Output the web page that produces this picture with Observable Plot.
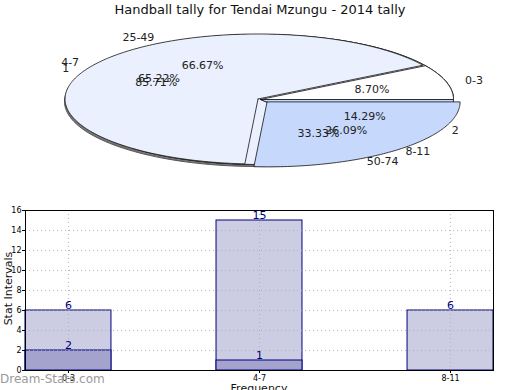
<!DOCTYPE html>
<html><head><meta charset="utf-8">
<script src="https://cdn.jsdelivr.net/npm/d3@7"></script>
<script src="https://cdn.jsdelivr.net/npm/@observablehq/plot@0.6"></script>
<style>
body{margin:0;background:#fff;font-family:"DejaVu Sans",sans-serif;}
#wrap{position:relative;width:520px;height:390px;overflow:hidden;background:#fff;}
#title{position:absolute;top:2px;left:0;width:520px;text-align:center;font-size:13px;color:#111;}
#pie{position:absolute;top:0;left:0;}
#bar{position:absolute;top:200px;left:0;}
#wm{position:absolute;left:0;top:372px;font-size:12px;color:#9a9a9a;}
#ylab{position:absolute;left:-37px;top:282px;width:90px;text-align:center;font-size:11px;color:#111;transform:rotate(-90deg);}
#xlab{position:absolute;left:209px;top:382px;width:100px;text-align:center;font-size:11px;color:#111;}
</style></head><body>
<div id="wrap"><div id="pie"></div><div id="bar"></div><div id="title">Handball tally for Tendai Mzungu - 2014 tally</div><div id="wm">Dream-Stats.com</div><div id="ylab">Stat Intervals</div><div id="xlab">Frequency</div></div>
<script>
// ---- data ----
const pieALabels = ["25-49", "50-74"];
const pieAValues = [2, 1];
const pieBLabels = ["0-3", "4-7", "8-11"];
const pieBValues = [2, 15, 6];
const pieCLabels = ["1", "2"];
const pieCValues = [6, 1];

const barCategories = ["0-3", "4-7", "8-11"];
const barTotals = [6, 15, 6];
const barSubset = [2, 1, null];
const yTicks = [0, 2, 4, 6, 8, 10, 12, 14, 16];

// ---- pie geometry (unit ellipse, angles ccw from 3 o'clock) ----
const PALE = "#eaf0fd", LIGHT = "#c6d8fc", WHITE = "#ffffff";
function buildPie(name, labels, values, colors, explode) {
  const total = d3.sum(values);
  let a0 = 0;
  return labels.map((label, i) => {
    const a1 = a0 + values[i] / total * 360;
    const mid = (a0 + a1) / 2 * Math.PI / 180;
    const e = explode[i];
    const ox = e * Math.cos(mid), oy = e * Math.sin(mid);
    const pts = [{x: ox, y: oy}];
    const n = Math.max(2, Math.ceil(a1 - a0));
    for (let k = 0; k <= n; k++) {
      const r = (a0 + (a1 - a0) * k / n) * Math.PI / 180;
      pts.push({x: ox + Math.cos(r), y: oy + Math.sin(r)});
    }
    pts.push({x: ox, y: oy});
    const s = {pie: name, label, pct: (values[i] / total * 100).toFixed(2) + "%", color: colors[i], pts,
      px: ox + 0.6 * Math.cos(mid), py: oy + 0.6 * Math.sin(mid),
      lx: 1.1 * Math.cos(mid), ly: 1.1 * Math.sin(mid)};
    a0 = a1;
    return s;
  });
}
const pieA = buildPie("A", pieALabels, pieAValues, [PALE, LIGHT], [0, 0]);
const pieC = buildPie("C", pieCLabels, pieCValues, [PALE, LIGHT], [0, 0]);
const pieB = buildPie("B", pieBLabels, pieBValues, [WHITE, PALE, LIGHT], [0, 0.015, 0.05]);
const allSlices = [...pieA, ...pieC, ...pieB];

const CX = 260, CY = 99, RX = 193, RY = 65, PW = 520, PH = 185;
const shadow = d3.range(0, 361, 2).map(a => ({x: Math.cos(a * Math.PI / 180) - 3 / RX, y: Math.sin(a * Math.PI / 180) - 2 / RY}));

const pieMarks = [
  Plot.line(shadow, {x: "x", y: "y", fill: "#777", stroke: "#555", strokeWidth: 1})
];
for (const s of allSlices) {
  pieMarks.push(Plot.line(s.pts, {x: "x", y: "y", fill: s.color, stroke: "#111", strokeWidth: 0.8, curve: "linear"}));
}
const textStyle = {fontSize: 11, fill: "#222", fontFamily: "DejaVu Sans"};
pieMarks.push(Plot.text(allSlices, {x: "px", y: "py", text: "pct", ...textStyle}));
pieMarks.push(Plot.text(allSlices.filter(s => s.lx < 0), {x: "lx", y: "ly", text: "label", textAnchor: "end", ...textStyle}));
pieMarks.push(Plot.text(allSlices.filter(s => s.lx >= 0), {x: "lx", y: "ly", text: "label", textAnchor: "start", ...textStyle}));

const piePlot = Plot.plot({
  width: PW, height: PH, margin: 0,
  x: {domain: [-CX / RX, (PW - CX) / RX], range: [0, PW], axis: null},
  y: {domain: [-(PH - CY) / RY, CY / RY], range: [PH, 0], axis: null},
  marks: pieMarks
});
document.getElementById("pie").appendChild(piePlot);

// ---- bar chart ----
const HALF = 0.225;
const totalRows = barCategories.map((c, i) => ({i, c, v: barTotals[i]}));
const subRows = barCategories.map((c, i) => ({i, c, v: barSubset[i]})).filter(d => d.v != null);
const navy = "#00007f";
const barPlot = Plot.plot({
  width: 520, height: 190, marginLeft: 25, marginRight: 27, marginTop: 10, marginBottom: 20,
  style: {fontFamily: "DejaVu Sans", background: "transparent"},
  x: {domain: [-HALF, 2 + HALF]},
  y: {domain: [0, 16]},
  marks: [
    Plot.rect(totalRows, {x1: d => d.i - HALF, x2: d => d.i + HALF, y1: 0, y2: "v", fill: "#cccce3", stroke: navy, strokeWidth: 1}),
    Plot.rect(subRows, {x1: d => d.i - HALF, x2: d => d.i + HALF, y1: 0, y2: "v", fill: "#a3a3cd", stroke: navy, strokeWidth: 1}),
    Plot.gridY(yTicks.slice(1, -1), {stroke: "#aaa", strokeOpacity: 0.8, strokeDasharray: "1,3"}),
    Plot.gridX([0, 1, 2], {stroke: "#aaa", strokeOpacity: 0.8, strokeDasharray: "1,3"}),
    Plot.text(totalRows, {x: "i", y: "v", text: d => String(d.v), dy: -5, fill: navy, fontSize: 11}),
    Plot.text(subRows, {x: "i", y: "v", text: d => String(d.v), dy: -5, fill: navy, fontSize: 11}),
    Plot.frame({stroke: "#000", strokeWidth: 1}),
    Plot.axisY({ticks: yTicks, tickSize: 3, tickPadding: 1, fontSize: 8, label: null}),
    Plot.axisX({ticks: [0, 1, 2], tickFormat: i => barCategories[i], tickSize: 3, tickPadding: 2, fontSize: 8, label: null})
  ]
});
document.getElementById("bar").appendChild(barPlot);
</script>
</body></html>
